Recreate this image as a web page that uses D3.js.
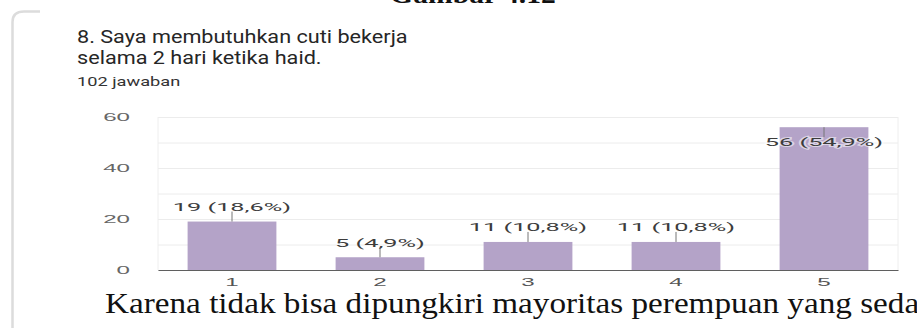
<!DOCTYPE html>
<html>
<head>
<meta charset="utf-8">
<script src="https://cdn.jsdelivr.net/npm/d3@7"></script>
<style>
  html, body { margin: 0; padding: 0; background: #fff; overflow: hidden; }
  svg { display: block; }
</style>
</head>
<body>
<svg id="page" width="917" height="328"></svg>
<script>
// Survey question 8: answer counts on a 1–5 scale
const categories = ["1", "2", "3", "4", "5"];
const counts = [19, 5, 11, 11, 56];
const percents = ["18,6%", "4,9%", "10,8%", "10,8%", "54,9%"];
const yTickValues = [0, 20, 40, 60];
const gridValues = [0, 10, 20, 30, 40, 50, 60];
const titleLines = ["8. Saya membutuhkan cuti bekerja", "selama 2 hari ketika haid."];
const responseNote = "102 jawaban";
const captionText = "Gambar 4.12";
const bodyText = "Karena tidak bisa dipungkiri mayoritas perempuan yang sedang";

const svg = d3.select("#page");

// widen glyphs horizontally by factor k, keeping the anchor
function stretch(sel, k) {
  sel.each(function () {
    const w = this.getComputedTextLength();
    this.setAttribute("textLength", (w * k).toFixed(2));
    this.setAttribute("lengthAdjust", "spacingAndGlyphs");
  });
}

// figure caption, mostly above the top edge
svg.append("text")
  .attr("x", 473).attr("y", 2.5)
  .attr("text-anchor", "middle")
  .style("font-family", "'Liberation Serif', 'Times New Roman', serif")
  .style("font-weight", "bold")
  .style("font-size", "26px")
  .attr("fill", "#111")
  .text(captionText)
  .call(stretch, 1.14);

// card outline: left edge with rounded top corner
svg.append("path")
  .attr("d", "M12.5,328 V22 Q12.5,11.5 24,11.5 H40")
  .attr("fill", "none")
  .attr("stroke", "#dcdcdc")
  .attr("stroke-width", 2.5);

// question title and response count
const titleG = svg.append("g")
  .style("font-family", "Roboto, 'Noto Sans', sans-serif")
  .attr("fill", "#262626");
titleG.selectAll("text.title").data(titleLines).join("text")
  .attr("class", "title")
  .attr("x", 77)
  .attr("y", (d, i) => 42.5 + i * 21)
  .style("font-size", "18.5px")
  .text(d => d)
  .call(stretch, 1.17);
titleG.append("text")
  .attr("x", 77).attr("y", 85.5)
  .style("font-size", "13px")
  .attr("fill", "#333")
  .text(responseNote)
  .call(stretch, 1.4);

// chart
const x = d3.scaleBand()
  .domain(categories)
  .range([158, 898])
  .paddingInner(0.4)
  .paddingOuter(0.2);
const y = d3.scaleLinear()
  .domain([0, 60])
  .range([270, 117]);

const chart = svg.append("g").style("font-family", "Roboto, 'Noto Sans', sans-serif");

// horizontal gridlines
const grid = chart.append("g")
  .attr("transform", "translate(158,0)")
  .call(d3.axisLeft(y).tickValues(gridValues).tickSize(-(898 - 158)).tickFormat(""));
grid.select(".domain").remove();
grid.selectAll("line").attr("stroke", "#ececec");

// plot frame sides
chart.selectAll("line.side").data([158, 898]).join("line")
  .attr("class", "side")
  .attr("x1", d => d).attr("x2", d => d)
  .attr("y1", y(60)).attr("y2", y(0))
  .attr("stroke", "#eeeeee");

// y axis labels
const yAxis = chart.append("g")
  .attr("transform", "translate(130,0)")
  .call(d3.axisLeft(y).tickValues(yTickValues).tickSize(0).tickPadding(0));
yAxis.select(".domain").remove();
yAxis.selectAll("text")
  .style("font-size", "10.5px")
  .attr("fill", "#666")
  .call(stretch, 2.3);

// bars
chart.selectAll("rect.bar").data(counts).join("rect")
  .attr("class", "bar")
  .attr("x", (d, i) => x(categories[i]))
  .attr("width", x.bandwidth())
  .attr("y", d => y(d))
  .attr("height", d => y(0) - y(d))
  .attr("fill", "#b4a3c8");

// x axis baseline and labels
const xAxis = chart.append("g")
  .attr("transform", `translate(0,${y(0)})`)
  .call(d3.axisBottom(x).tickSize(0).tickSizeOuter(0).tickPadding(9));
xAxis.select(".domain").attr("stroke", "#5f5f5f").attr("stroke-width", 1.2);
xAxis.selectAll("text")
  .style("font-size", "10.5px")
  .attr("fill", "#555")
  .call(stretch, 2.3);

// value labels with leader ticks; labels that would rise past the top sit inside the bar
const labelG = chart.append("g");
counts.forEach((v, i) => {
  const cx = x(categories[i]) + x.bandwidth() / 2;
  const top = y(v);
  const inside = top - 20 < y(60);
  const tickEnd = inside ? top + 10 : top - 10;
  labelG.append("line")
    .attr("x1", cx).attr("x2", cx)
    .attr("y1", top).attr("y2", tickEnd)
    .attr("stroke", "#777").attr("stroke-width", 1);
  labelG.append("text")
    .attr("x", cx)
    .attr("y", inside ? top + 19 : top - 10.5)
    .attr("text-anchor", "middle")
    .style("font-size", "11px")
    .attr("fill", "#3c3c3c")
    .attr("stroke", inside ? "rgba(255,255,255,0.55)" : "none")
    .attr("stroke-width", 2)
    .attr("paint-order", "stroke")
    .text(`${v} (${percents[i]})`)
    .call(stretch, 2.3);
});

// document body text below the chart
svg.append("text")
  .attr("x", 105).attr("y", 313)
  .style("font-family", "'Liberation Serif', 'Times New Roman', serif")
  .style("font-size", "28.5px")
  .attr("fill", "#111")
  .text(bodyText)
  .call(stretch, 1.165);
</script>
</body>
</html>
